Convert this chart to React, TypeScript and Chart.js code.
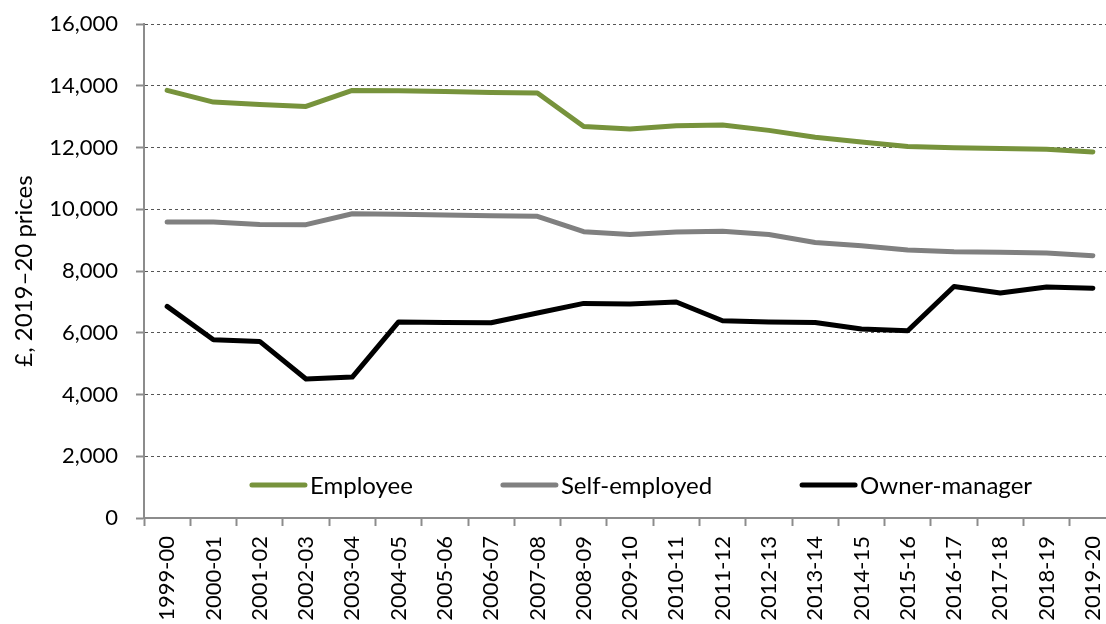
import React, { useEffect, useRef } from "react";
import { Chart, registerables } from "chart.js";

Chart.register(...registerables);

const FONT = "Lato, 'Open Sans', sans-serif";

const categories = [
  "1999-00", "2000-01", "2001-02", "2002-03", "2003-04", "2004-05", "2005-06",
  "2006-07", "2007-08", "2008-09", "2009-10", "2010-11", "2011-12", "2012-13",
  "2013-14", "2014-15", "2015-16", "2016-17", "2017-18", "2018-19", "2019-20",
];

const employee = [
  13850, 13470, 13390, 13330, 13850, 13840, 13810, 13785, 13765, 12680, 12600,
  12705, 12730, 12555, 12330, 12180, 12035, 11995, 11970, 11940, 11855,
];

const selfEmployed = [
  9590, 9590, 9510, 9500, 9855, 9835, 9810, 9790, 9770, 9275, 9185,
  9260, 9285, 9185, 8925, 8820, 8680, 8625, 8605, 8580, 8495,
];

const ownerManager = [
  6855, 5775, 5720, 4500, 4565, 6350, 6335, 6325, 6640, 6950, 6930,
  6995, 6390, 6350, 6335, 6120, 6065, 7500, 7290, 7480, 7440,
];

const seriesLabels = ["Employee", "Self-employed", "Owner-manager"];
const seriesColors = ["#77933C", "#808080", "#000000"];

const yTitle = "£, 2019–20 prices";
const yMin = 0;
const yMax = 16000;
const yStep = 2000;

const inlineLegend = {
  id: "inlineLegend",
  afterDraw(chart: any) {
    const { ctx, chartArea } = chart;
    ctx.save();
    ctx.font = `24px ${FONT}`;
    const lineLen = 57;
    const gap = 3;
    const spacing = 88;
    const items = chart.data.datasets.map((ds: any) => ({
      label: ds.label,
      color: ds.borderColor,
      w: ctx.measureText(ds.label).width,
    }));
    const total =
      items.reduce((s: number, it: any) => s + lineLen + gap + it.w, 0) +
      spacing * (items.length - 1);
    let x = (chartArea.left + chartArea.right) / 2 + 11 - total / 2;
    const y = chartArea.bottom - 33;
    ctx.textBaseline = "middle";
    ctx.textAlign = "left";
    for (const it of items) {
      ctx.beginPath();
      ctx.strokeStyle = it.color;
      ctx.lineWidth = 5;
      ctx.lineCap = "round";
      ctx.moveTo(x + 2, y);
      ctx.lineTo(x + lineLen - 2, y);
      ctx.stroke();
      ctx.fillStyle = "#000";
      ctx.fillText(it.label, x + lineLen + gap, y + 1);
      x += lineLen + gap + it.w + spacing;
    }
    ctx.restore();
  },
};

export default function App() {
  const ref = useRef<HTMLCanvasElement>(null);

  useEffect(() => {
    if (!ref.current) return;
    const data = [employee, selfEmployed, ownerManager];
    const chart = new Chart(ref.current, {
      type: "line",
      data: {
        labels: categories,
        datasets: data.map((d, i) => ({
          label: seriesLabels[i],
          data: d,
          borderColor: seriesColors[i],
          backgroundColor: seriesColors[i],
          borderWidth: 5,
          pointRadius: 0,
          pointHoverRadius: 0,
          tension: 0,
          borderJoinStyle: "round" as const,
          borderCapStyle: "round" as const,
          fill: false,
        })),
      },
      options: {
        animation: false,
        responsive: false,
        devicePixelRatio: 1,
        layout: { padding: { top: 24, right: 4, left: 0, bottom: 0 } },
        plugins: {
          legend: { display: false },
          tooltip: { enabled: false },
        },
        scales: {
          x: {
            type: "category",
            offset: true,
            afterFit: (s: any) => {
              s.height = 106;
              s.paddingLeft = 0;
              s.paddingRight = 0;
            },
            grid: {
              offset: true,
              drawOnChartArea: false,
              drawTicks: true,
              tickLength: 8,
              tickColor: "#8c8c8c",
              tickWidth: 2,
            },
            border: { display: true, color: "#8c8c8c", width: 2 },
            ticks: {
              autoSkip: false,
              maxRotation: 90,
              minRotation: 90,
              padding: 10,
              color: "#000",
              font: { family: FONT, size: 22 },
            },
          },
          y: {
            min: yMin,
            max: yMax,
            afterFit: (s: any) => {
              s.width = 144;
              s.paddingTop = 0;
              s.paddingBottom = 0;
            },
            grid: {
              color: (c: any) => (c.tick && c.tick.value === 0 ? "rgba(0,0,0,0)" : "#555555"),
              lineWidth: 1,
              drawTicks: true,
              tickLength: 8,
              tickColor: "#8c8c8c",
              tickWidth: 2,
            },
            border: { display: true, color: "#8c8c8c", width: 2, dash: [3, 3] },
            ticks: {
              stepSize: yStep,
              padding: 18,
              color: "#000",
              font: { family: FONT, size: 22 },
            },
            title: {
              display: true,
              text: yTitle,
              color: "#000",
              font: { family: FONT, size: 24 },
              padding: { top: 10, bottom: 0 },
            },
          },
        },
      },
      plugins: [inlineLegend],
    });
    return () => chart.destroy();
  }, []);

  return (
    <div
      style={{
        position: "absolute",
        left: 0,
        top: 0,
        width: 1106,
        height: 624,
        overflow: "hidden",
        background: "#fff",
      }}
    >
      <canvas ref={ref} width={1120} height={624} style={{ display: "block" }} />
    </div>
  );
}
